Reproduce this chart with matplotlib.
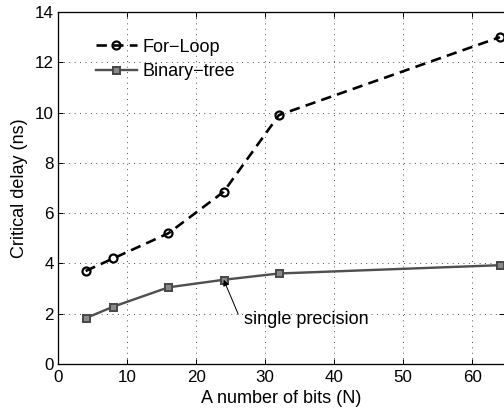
import matplotlib
matplotlib.use("Agg")
import matplotlib.pyplot as plt

bits = [4, 8, 16, 24, 32, 64]
for_loop = [3.7, 4.2, 5.2, 6.85, 9.9, 13.0]
binary_tree = [1.82, 2.28, 3.05, 3.35, 3.6, 3.93]
xticks = [0, 10, 20, 30, 40, 50, 60]
yticks = [0, 2, 4, 6, 8, 10, 12, 14]

plt.rcParams['font.family'] = ['Liberation Sans', 'DejaVu Sans']

fig = plt.figure(figsize=(7, 5.75), dpi=72)
ax = fig.add_axes([58/504, 1-364/414, 446/504, (364-12)/414])

ax.plot(bits, for_loop, color='black', linestyle=(0, (4, 2.4)), linewidth=2.6,
        marker='o', markersize=8, markerfacecolor='none', markeredgewidth=2.2,
        markeredgecolor='black', label='For\u2212Loop')
ax.plot(bits, binary_tree, color='#505050', linestyle='-', linewidth=2.4,
        marker='s', markersize=7, markerfacecolor='#8a8a8a', markeredgewidth=2.0,
        markeredgecolor='#4a4a4a', label='Binary\u2212tree')

ax.annotate('single precision', xy=(24, 3.35), xytext=(27.0, 1.75),
            fontsize=18, va='center', ha='left',
            arrowprops=dict(arrowstyle='-|>', color='black', lw=1.0,
                            shrinkA=0, shrinkB=0, mutation_scale=12,
                            relpos=(-0.05, 0.85)))

ax.set_xlim(0, 64.6)
ax.set_ylim(0, 14)
ax.set_xticks(xticks)
ax.set_yticks(yticks)
ax.tick_params(direction='in', top=True, right=True, labelsize=17, length=5, width=1)
ax.tick_params(axis='x', pad=6)
ax.tick_params(axis='y', pad=4)
ax.grid(True, linestyle=(0, (1, 5)), color='#333333', linewidth=0.9)
ax.spines['right'].set_visible(False)
for s in ['left', 'bottom', 'top']:
    ax.spines[s].set_linewidth(1.3)

ax.set_xlabel('A number of bits (N)', fontsize=18, labelpad=5)
ax.set_ylabel('Critical delay (ns)', fontsize=18, labelpad=7)

leg = ax.legend(loc='upper left', frameon=False, fontsize=18, handlelength=2.3,
                bbox_to_anchor=(0.06, 0.955), borderaxespad=0.2, labelspacing=0.4,
                handletextpad=0.3)

fig.savefig('out.png', dpi=72)
